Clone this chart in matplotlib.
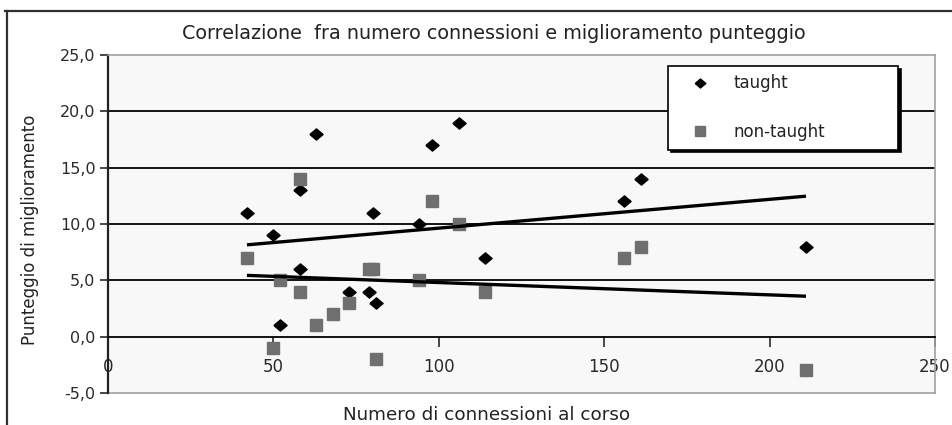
import numpy as np
import matplotlib
matplotlib.use("Agg")
import matplotlib.pyplot as plt
from matplotlib.ticker import FuncFormatter
from matplotlib.lines import Line2D

plt.rcParams['font.family'] = ['DejaVu Sans']

# ---- data ----
taught_x = [42, 50, 52, 58, 58, 63, 73, 79, 80, 81, 94, 98, 106, 114, 156, 161, 211]
taught_y = [11, 9, 1, 13, 6, 18, 4, 4, 11, 3, 10, 17, 19, 7, 12, 14, 8]
nontaught_x = [42, 50, 52, 58, 58, 63, 68, 73, 79, 80, 81, 94, 98, 106, 114, 156, 161, 211]
nontaught_y = [7, -1, 5, 14, 4, 1, 2, 3, 6, 6, -2, 5, 12, 10, 4, 7, 8, -3]
# linear trend lines (end values)
trend_x = [42, 211]
taught_trend_y = [8.15, 12.47]
nontaught_trend_y = [5.44, 3.59]
series_labels = ["taught", "non-taught"]
title = "Correlazione  fra numero connessioni e miglioramento punteggio"
xlabel = "Numero di connessioni al corso"
ylabel = "Punteggio di miglioramento"
x_ticks = [0, 50, 100, 150, 200, 250]
y_ticks = [-5, 0, 5, 10, 15, 20, 25]

W, H = 953, 425
fig = plt.figure(figsize=(W / 100, H / 100), dpi=100)

left, right, top, bottom = 108, 935, 55, 393
ax = fig.add_axes([left / W, 1 - bottom / H, (right - left) / W, (bottom - top) / H])
ax.set_facecolor('#f8f8f8')
ax.set_xlim(0, 250)
ax.set_ylim(-5, 25)

# gridlines
for yv in y_ticks[2:-1]:
    ax.axhline(yv, color='black', lw=1.3, zorder=1)

diamond = [(-1, 0), (0, 0.85), (1, 0), (0, -0.85), (-1, 0)]
grey = '#6f6f6f'
h1, = ax.plot(taught_x, taught_y, ls='none', marker=diamond, ms=9.5, color='black', zorder=3)
h2, = ax.plot(nontaught_x, nontaught_y, ls='none', marker='s', ms=9.3, color=grey, zorder=3)

ax.plot(trend_x, taught_trend_y, color='black', lw=2.4, zorder=4, solid_capstyle='butt')
ax.plot(trend_x, nontaught_trend_y, color='black', lw=2.4, zorder=4, solid_capstyle='butt')

# spines
ax.spines['bottom'].set_position(('data', 0))
ax.spines['bottom'].set_color('black')
ax.spines['bottom'].set_linewidth(1.3)
ax.spines['left'].set_color('#222222')
ax.spines['left'].set_linewidth(1.6)
for s in ['top', 'right']:
    ax.spines[s].set_color('#a0a0a0')
    ax.spines[s].set_linewidth(1.2)
ax.axhline(-5, color='#a0a0a0', lw=1.2, clip_on=False, zorder=1)

ax.set_xticks(x_ticks)
ax.set_yticks(y_ticks)
ax.yaxis.set_major_formatter(FuncFormatter(lambda v, p: f"{v:.1f}".replace('.', ',')))
ax.tick_params(axis='y', direction='out', length=6, width=1.2, pad=3, labelsize=11.5, colors='#2a2a2a')
ax.tick_params(axis='x', direction='out', length=7, width=1.2, pad=8, labelsize=12, colors='#2a2a2a')

# legend
leg = ax.legend([h1, h2], series_labels, loc='upper left',
                bbox_to_anchor=(0.677, 0.967, 0.278, 0.0), mode='expand',
                borderaxespad=0, borderpad=0.5, labelspacing=1.85,
                handlelength=2.9, handletextpad=0.55, fontsize=12,
                frameon=True, fancybox=False, shadow={'color': 'black', 'alpha': 1.0},
                numpoints=1, markerscale=0.8)
leg.get_frame().set_edgecolor('black')
leg.get_frame().set_linewidth(1.2)
leg.get_frame().set_facecolor('white')
for t in leg.get_texts():
    t.set_color('#222222')
leg.set_zorder(6)

# texts
fig.text(494 / W, 1 - 39 / H, title, ha='center', va='baseline', fontsize=13.8, color='#222222')
fig.text(30 / W, 1 - 230 / H, ylabel, rotation=90, ha='center', va='center', fontsize=12, color='#222222')
fig.text(487 / W, 1 - 420 / H, xlabel, ha='center', va='baseline', fontsize=13.2, color='#222222')

# outer chart frame
fig.add_artist(Line2D([5 / W, 1.0], [1 - 11 / H, 1 - 11 / H], transform=fig.transFigure, color='#303030', lw=1.6))
fig.add_artist(Line2D([7 / W, 7 / W], [1 - 11 / H, 0], transform=fig.transFigure, color='#303030', lw=1.6))

fig.savefig('out.png', dpi=100)
